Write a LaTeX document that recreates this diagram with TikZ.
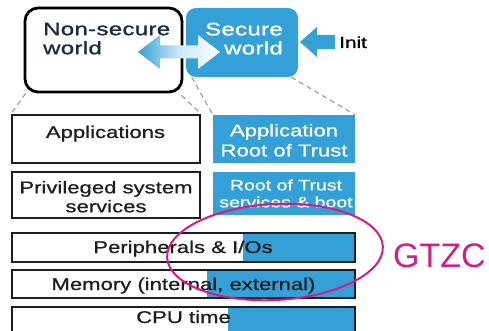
\documentclass[tikz,border=0pt]{standalone}
\usepackage{fontspec}
\setmainfont{Liberation Sans}
\newfontfamily\widesans{Liberation Sans}[FakeStretch=1.3, FakeBold=0.8]
\newfontfamily\worldsans{Liberation Sans}[FakeStretch=1.33, FakeBold=1.2, LetterSpace=2]
\usetikzlibrary{calc}
\definecolor{sblue}{RGB}{52,160,216}
\definecolor{gmag}{RGB}{212,28,132}
\definecolor{navy}{RGB}{30,42,70}
\definecolor{ink}{RGB}{30,30,30}
\definecolor{dashgrey}{RGB}{165,165,165}
\begin{document}
\begin{tikzpicture}[x=1pt,y=-1pt,
  layerbox/.style={rectangle, draw=ink, line width=2.3pt, fill=white, inner sep=0pt},
  trustbox/.style={rectangle, fill=sblue, inner sep=0pt},
  bluepart/.style={path picture={\fill[sblue] ([xshift=-#1]path picture bounding box.south east) rectangle (path picture bounding box.north east);}},
  lab/.style={inner sep=0pt, text=ink, font=\widesans\fontsize{17}{19}\selectfont},
  worldlab/.style={inner sep=0pt, font=\worldsans\fontsize{18}{19}\selectfont},
  guide/.style={draw=dashgrey, line width=1.3pt, dash pattern=on 5pt off 4pt},
  blockarrow/.style={fill=sblue}
]
\useasboundingbox (0,0) rectangle (489,331);
\clip (0,0) rectangle (489,331);

% worlds
\node[rectangle, draw=black, line width=2.8pt, rounded corners=13pt, fill=white,
      minimum width=157pt, minimum height=84pt, inner sep=0pt] (ns) at (103.5,50) {};
\node[rectangle, fill=sblue, rounded corners=10pt,
      minimum width=112pt, minimum height=69pt, inner sep=0pt] (sec) at (242,42.5) {};

% layer boxes
\node[layerbox, minimum width=188pt, minimum height=48pt] (app) at (106,139) {};
\node[trustbox, minimum width=142pt, minimum height=48pt] (art) at (284,139) {};
\node[layerbox, minimum width=188pt, minimum height=46pt] (priv) at (106,195) {};
\node[trustbox, minimum width=142pt, minimum height=43pt] (rts) at (284,193.5) {};
\node[layerbox, bluepart=112pt, minimum width=343pt, minimum height=29pt] (per) at (183.5,247.5) {};
\node[layerbox, bluepart=148pt, minimum width=343pt, minimum height=28pt] (mem) at (183.5,284) {};
\node[layerbox, bluepart=127pt, minimum width=343pt, minimum height=38pt] (cpu) at (183.5,326) {};

% guide lines from the worlds to their layers
\draw[guide] ($(ns.south west)+(2,0)$) -- (app.north west);
\draw[guide] ($(ns.south east)+(-2,2)$) -- (app.north east);
\draw[guide] ($(sec.south west)+(6,0)$) -- (art.north west);
\draw[guide] ($(sec.south east)+(-7,0)$) -- (art.north east);

% labels
\node[worldlab, text=navy, align=left, anchor=north west] (nst) at (43,22.6) {Non-secure\\world};
\node[worldlab, text=white, align=right, anchor=north east] (sect) at (283,22.6) {Secure\\world};
\node[lab, anchor=base] (appt) at (105.5,138) {Applications};
\node[lab, text=white, align=center, anchor=north, font=\widesans\fontsize{17}{20}\selectfont] (artt) at (284,123.8) {Application\\Root of Trust};
\node[lab, align=center, anchor=north] (privt) at (106,180.8) {Privileged system\\services};
\node[lab, text=white, align=center, anchor=north, font=\widesans\fontsize{15}{17}\selectfont] (rtst) at (286,179.3) {Root of Trust\\services \& boot};
\node[lab, anchor=base] (pert) at (183,253) {Peripherals \& I/Os};
\node[lab, anchor=base] (memt) at (183.5,290) {Memory (internal, external)};
\node[lab, anchor=base] (cput) at (183.5,323) {CPU time};
\node[lab, text=black, anchor=base west, font=\widesans\fontsize{16}{18}\selectfont] (init) at (339,48) {Init};

% exchange between the worlds
\path[left color=sblue, right color=white, middle color=sblue!25]
  (138,52) -- (160,35) -- (160,45.5) -- (198,45.5) -- (198,35) -- (220,52)
  -- (198,69) -- (198,58.5) -- (160,58.5) -- (160,69) -- cycle;

% init arrow into the secure world
\path[blockarrow] (300,42) -- (317,27) -- (317,35) -- (335,35) -- (335,49)
  -- (317,49) -- (317,57) -- cycle;

% GTZC scope
\draw[gmag, line width=2pt, rotate around={3:(275,252)}] (275,252) ellipse [x radius=108pt, y radius=48pt];
\node[inner sep=0pt, anchor=base west, text=gmag, font=\fontsize{34}{36}\selectfont] (gtzc) at (393,267) {GTZC};
\end{tikzpicture}
\end{document}
